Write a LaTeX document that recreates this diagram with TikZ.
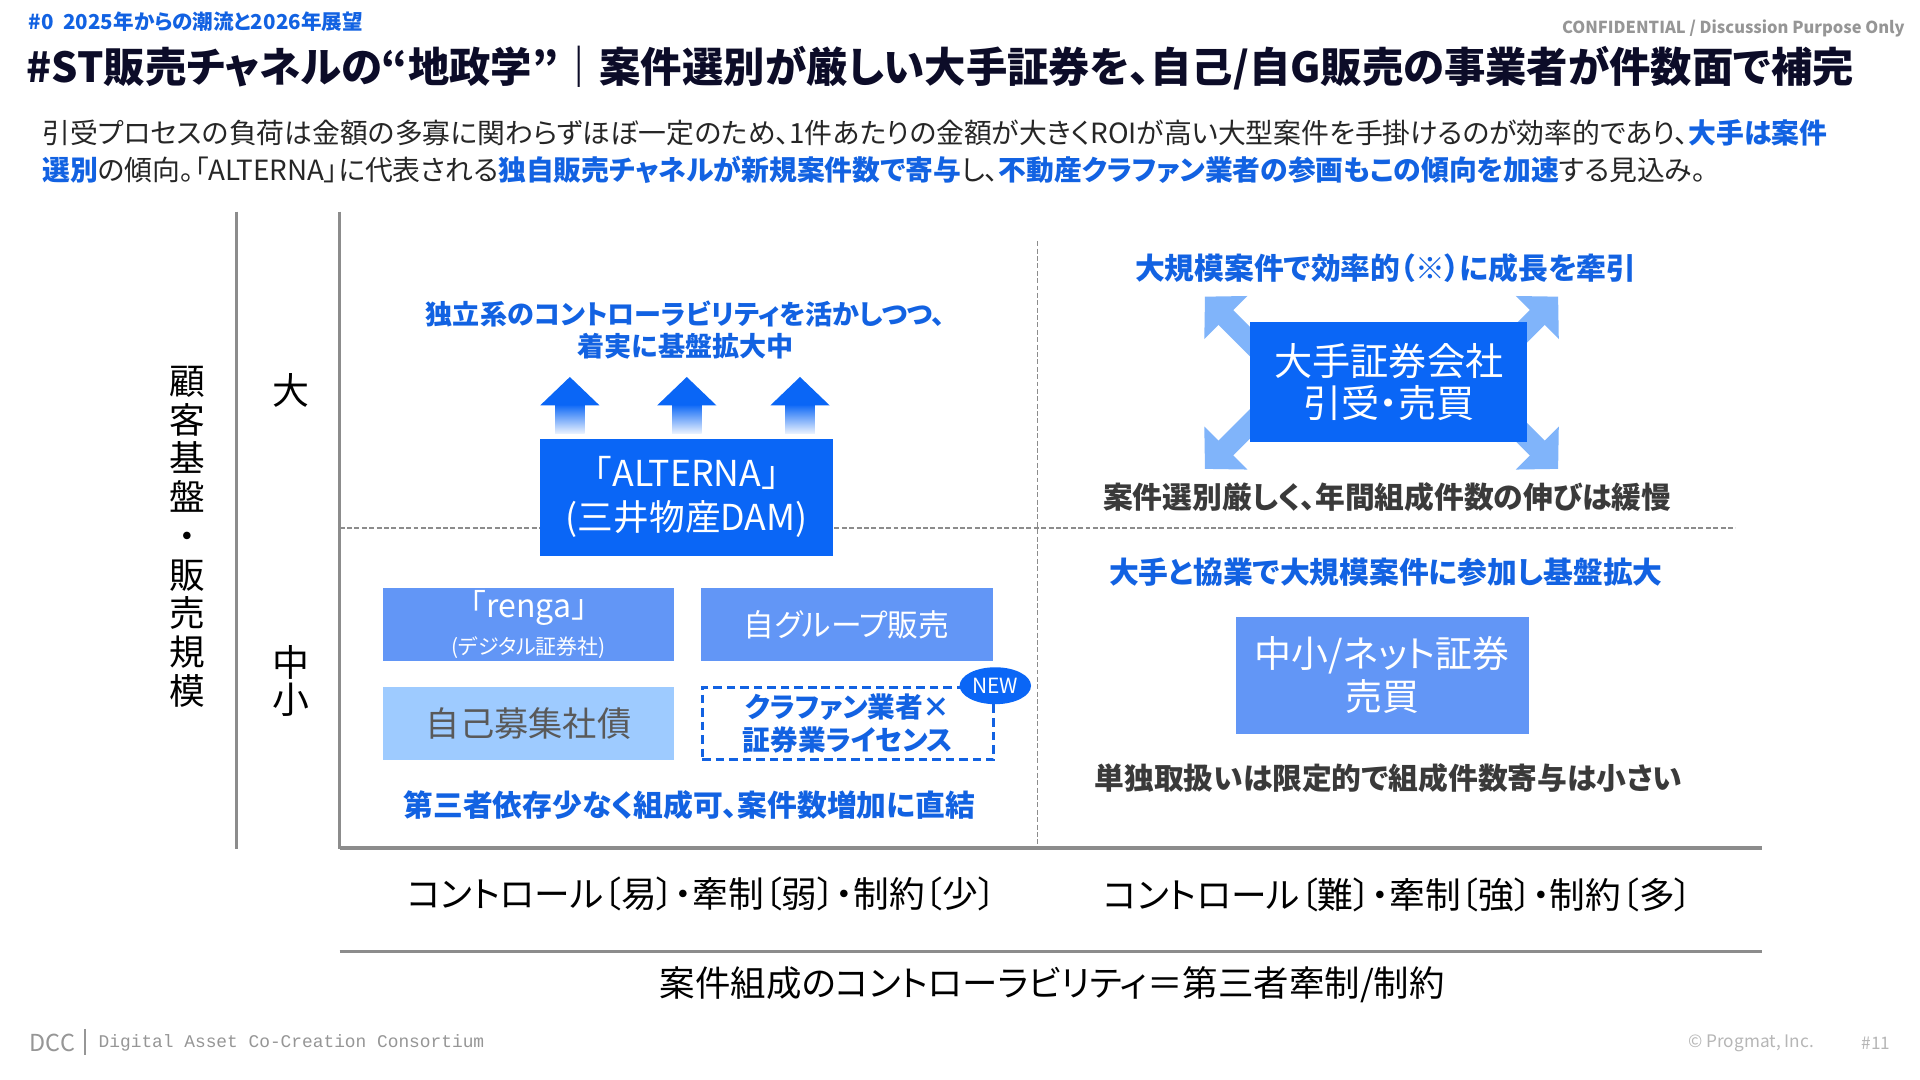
\documentclass[tikz,border=0pt]{standalone}
\usepackage{fontspec}
\setmainfont{Noto Sans CJK JP}[RawFeature=+palt]
\newfontfamily\fullwidth{Noto Sans CJK JP}
\newfontfamily\dccmono{Liberation Mono}
\usetikzlibrary{arrows.meta,positioning,calc,backgrounds,shapes.geometric}
\definecolor{emphblue}{RGB}{18,98,226}
\definecolor{boxblue}{RGB}{10,102,246}
\definecolor{midblue}{RGB}{98,150,246}
\definecolor{lightblue}{RGB}{158,203,255}
\definecolor{arrowblue}{RGB}{128,180,250}
\definecolor{axisgray}{RGB}{140,140,140}
\definecolor{titlenavy}{RGB}{12,12,40}
\definecolor{notegray}{RGB}{58,58,58}
\definecolor{footgray}{RGB}{150,150,150}
\newcommand\fsz[2]{\fontsize{#1}{#2}\selectfont}

\begin{document}
\begin{tikzpicture}[x=1pt,y=-1pt,
	emph/.style={text=emphblue,font=\bfseries\fsz{24.2}{27},align=center},
	note/.style={text=notegray,font=\bfseries\fsz{24.2}{27}},
	axislabel/.style={font=\fsz{30}{30},align=center},
	keybox/.style={fill=boxblue,text=white,inner sep=0pt,align=center,font=\fsz{30}{36}},
	chanbox/.style={fill=midblue,text=white,minimum width=237pt,minimum height=59pt,inner sep=0pt,align=center,font=\fsz{25}{30}},
	gridline/.style={axisgray,line width=1.2pt,dash pattern=on 4pt off 2pt},
	axisline/.style={axisgray,line width=2.5pt},
	bigarrow/.style={arrowblue,line width=17pt,-{Triangle[width=48pt,length=24pt]}}
	]
\begin{scope}[on background layer]
	\fill[white] (0,0) rectangle (1560,877.5);
\end{scope}
\useasboundingbox (0,0) rectangle (1560,877.5);

% Header
\node[anchor=west,text=emphblue,font=\bfseries\fsz{16.7}{17}] (chapter) at (20,18) {\#0\ \ 2025年からの潮流と2026年展望};
\node[anchor=east,text=footgray,font=\bfseries\fsz{13.4}{14}] (conf) at (1551,23) {CONFIDENTIAL / Discussion Purpose Only};
\node[anchor=west,text=titlenavy,font=\bfseries\fsz{33.6}{34}] (title) at (18,55) {\#ST販売チャネルの“地政学”｜案件選別が厳しい大手証券を、自己/自G販売の事業者が件数面で補完};
\node[anchor=west,text=black!85,font=\fsz{22.6}{30}] (lead-1) at (31,108) {引受プロセスの負荷は金額の多寡に関わらずほぼ一定のため、1件あたりの金額が大きくROIが高い大型案件を手掛けるのが効率的であり、\textcolor{emphblue}{\bfseries 大手は案件}};
\node[anchor=west,text=black!85,font=\fsz{22.6}{30}] (lead-2) at (31,138) {\textcolor{emphblue}{\bfseries 選別}の傾向。「ALTERNA」に代表される\textcolor{emphblue}{\bfseries 独自販売チャネルが新規案件数で寄与}し、\textcolor{emphblue}{\bfseries 不動産クラファン業者の参画もこの傾向を加速}する見込み。};

% Axes
\draw[axisline,line width=2pt] (192,172) -- (192,690);
\draw[axisline,line width=2pt] (276,172) -- (276,690);
\draw[axisline] (276,689) -- (1432,689);
\draw[axisline] (276,773) -- (1432,773);

% Quadrant dashes
\draw[gridline] (843,196) -- (843,690);
\draw[gridline] (276,429) -- (1410,429);

\node[axislabel,font=\fsz{29}{31.5}] (y-title) at (152,436) {顧\\客\\基\\盤\\・\\販\\売\\規\\模};
\node[axislabel] (y-big) at (236,317) {大};
\node[axislabel] (y-small) at (236,553) {中\\小};
\node[font=\fsz{29}{29}] (x-easy) at (570,726) {コントロール〔易〕・牽制〔弱〕・制約〔少〕};
\node[font=\fsz{29}{29}] (x-hard) at (1136,727) {コントロール〔難〕・牽制〔強〕・制約〔多〕};
\node[font=\fsz{28.8}{29}] (x-title) at (855,800) {案件組成のコントローラビリティ＝第三者牽制/制約};

% Upper left
\node[emph,font=\bfseries\fsz{22}{26}] (indep-note) at (557,268) {独立系のコントローラビリティを活かしつつ、\\着実に基盤拡大中};
\node[keybox,minimum width=238pt,minimum height=95pt,font=\fullwidth\fsz{29}{36}] (alterna) at (558,404) {「ALTERNA」\\(三井物産DAM)};
\foreach \dx in {-95,0,92} {
	\shade[top color=boxblue,bottom color=boxblue!8] ($(alterna.north)+({\dx-12},-28)$) rectangle ($(alterna.north)+({\dx+12},-4)$);
	\fill[boxblue] ($(alterna.north)+({\dx-24},-27)$) -- ($(alterna.north)+(\dx,-50)$) -- ($(alterna.north)+({\dx+24},-27)$) -- cycle;
}

% Lower left
\node[chanbox] (renga) at (429.5,507.5) {{\fullwidth\fsz{26}{28}「renga」}\\{\fsz{17}{20}(デジタル証券社)}};
\node[chanbox,right=21pt of renga] (own-group) {自グループ販売};
\node[chanbox,below=21pt of renga,fill=lightblue,text=black!65,font=\fsz{27.8}{30}] (own-bond) {自己募集社債};
\node[chanbox,right=21pt of own-bond,fill=white,draw=emphblue,line width=2.5pt,dash pattern=on 7pt off 4pt,text=emphblue,font=\bfseries\fsz{22.5}{27}] (crowdfund) {クラファン業者×\\証券業ライセンス};
\node[ellipse,fill=boxblue,text=white,minimum width=58pt,minimum height=30pt,inner sep=0pt,font=\fsz{17}{17}] (new-badge) at (crowdfund.north east) {NEW};
\node[emph] (direct-note) at (560,654) {第三者依存少なく組成可、案件数増加に直結};

% Upper right
\node[emph] (growth-note) at (1126,218) {大規模案件で効率的（※）に成長を牽引};
\node[keybox,minimum width=225pt,minimum height=97pt,font=\fsz{31}{34}] (majorsec) at (1128.5,310.5) {大手証券会社\\引受・売買};
\coordinate (tip-nw) at (979,241);
\coordinate (tip-ne) at (1266,241);
\coordinate (tip-sw) at (979,381);
\coordinate (tip-se) at (1266,381);
\begin{scope}[on background layer]
	\draw[bigarrow] ($(tip-nw)+(50,50)$) -- (tip-nw);
	\draw[bigarrow] ($(tip-ne)+(-50,50)$) -- (tip-ne);
	\draw[bigarrow] ($(tip-sw)+(50,-50)$) -- (tip-sw);
	\draw[bigarrow] ($(tip-se)+(-50,-50)$) -- (tip-se);
\end{scope}
\node[note] (select-note) at (1127,404) {案件選別厳しく、年間組成件数の伸びは緩慢};

% Lower right
\node[emph] (alliance-note) at (1126,465) {大手と協業で大規模案件に参加し基盤拡大};
\node[keybox,fill=midblue,minimum width=238pt,minimum height=95pt,font=\fsz{30}{35}] (netsec) at (1123,548.5) {中小/ネット証券\\売買};
\node[note] (solo-note) at (1128,632) {単独取扱いは限定的で組成件数寄与は小さい};

% Footer
\node[anchor=west,text=footgray,font=\fsz{19}{19},inner sep=0pt] (dcc) at (24,847) {DCC};
\draw[footgray,line width=1pt] ($(dcc.east)+(8,-11)$) -- ($(dcc.east)+(8,10)$);
\node[anchor=west,text=footgray,font=\dccmono\fsz{14.5}{14.5},inner sep=0pt] (dcc-name) at (80,847) {Digital Asset Co-Creation Consortium};
\node[anchor=east,text=footgray!70,font=\fsz{14}{14},inner sep=0pt] (copyright) at (1474,848) {© Progmat, Inc.};
\node[anchor=east,text=footgray!70,font=\fsz{14}{14},inner sep=0pt] (page) at (1536,848) {\#11};
\end{tikzpicture}
\end{document}
